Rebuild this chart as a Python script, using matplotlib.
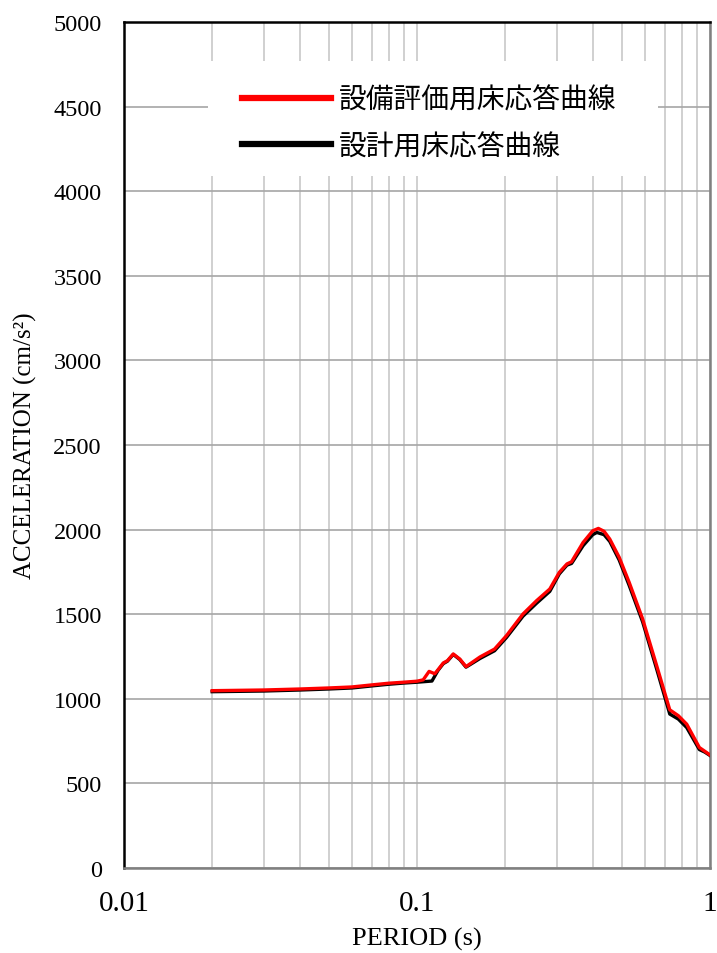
import numpy as np
import matplotlib.pyplot as plt
from matplotlib.patches import Rectangle

# 周期 (s) と加速度 (cm/s2) - 図から読み取り
periodo_rojo = [0.02, 0.03, 0.04, 0.05, 0.06, 0.07, 0.08, 0.09, 0.10, 0.105,
                0.110, 0.115, 0.118, 0.123, 0.127, 0.133, 0.140, 0.147, 0.164,
                0.184, 0.202, 0.230, 0.256, 0.284, 0.306, 0.325, 0.337, 0.369,
                0.398, 0.416, 0.435, 0.455, 0.490, 0.530, 0.589, 0.658, 0.729,
                0.78, 0.833, 0.92, 0.96, 1.0]
acel_rojo = [1048, 1052, 1058, 1064, 1070, 1082, 1092, 1098, 1104, 1112,
             1162, 1148, 1172, 1212, 1225, 1265, 1235, 1190, 1247,
             1294, 1373, 1501, 1580, 1649, 1747, 1797, 1810, 1924,
             1993, 2007, 1990, 1944, 1836, 1688, 1472, 1195, 935,
             900, 850, 712, 690, 668]

periodo_negro = [0.02, 0.03, 0.04, 0.05, 0.06, 0.07, 0.08, 0.09, 0.10, 0.1125,
                 0.118, 0.123, 0.127, 0.133, 0.140, 0.147, 0.164, 0.184, 0.202,
                 0.230, 0.256, 0.284, 0.306, 0.325, 0.337, 0.369, 0.398, 0.411,
                 0.435, 0.455, 0.490, 0.530, 0.589, 0.658, 0.729, 0.78, 0.833,
                 0.92, 0.96, 1.0]
acel_negro = [1042, 1046, 1052, 1058, 1064, 1076, 1086, 1093, 1098, 1105,
              1168, 1208, 1222, 1262, 1232, 1187, 1238, 1284, 1362,
              1488, 1565, 1635, 1738, 1790, 1800, 1905, 1970, 1983,
              1970, 1930, 1820, 1670, 1455, 1175, 910, 880, 830,
              700, 685, 665]

etiquetas = ["設備評価用床応答曲線", "設計用床応答曲線"]

serif = ["Liberation Serif", "DejaVu Serif"]

fig = plt.figure(figsize=(7.17, 9.54), dpi=100)
ax = fig.add_axes([0.1729, 0.0891, 0.8173, 0.8868])

ax.set_xscale("log")
ax.set_xlim(0.01, 1)
ax.set_ylim(0, 5000)
ax.set_yticks(np.arange(0, 5001, 500))
ax.set_xticks([0.01, 0.1, 1])
ax.set_xticklabels(["0.01", "0.1", "1"])

ax.grid(axis="x", which="both", color="#c8c8c8", linewidth=1.2)
ax.grid(axis="y", which="major", color="#a6a6a6", linewidth=1.2)
ax.tick_params(which="both", length=0)
ax.tick_params(axis="y", pad=16, labelsize=17.5)
ax.tick_params(axis="x", pad=16, labelsize=21)
for lab in ax.get_xticklabels() + ax.get_yticklabels():
    lab.set_family(serif)

for lado, color in [("left", "black"), ("top", "black"), ("right", "#808080"), ("bottom", "#808080")]:
    ax.spines[lado].set_color(color)
    ax.spines[lado].set_linewidth(1.8)

l_neg, = ax.plot(periodo_negro, acel_negro, color="black", linewidth=2.4, zorder=3)
l_roj, = ax.plot(periodo_rojo, acel_rojo, color="#ff0000", linewidth=2.4, zorder=4)

ax.set_xlabel("PERIOD (s)", family=serif, fontsize=19, labelpad=8)
ax.set_ylabel("ACCELERATION (cm/s²)", family=serif, fontsize=18, labelpad=12)

# caja blanca de la leyenda
ax.add_patch(Rectangle((0.143, 0.818), 0.768, 0.136, transform=ax.transAxes,
                       facecolor="white", edgecolor="none", zorder=2.5))
leg = ax.legend([l_roj, l_neg], etiquetas, loc="upper left",
                bbox_to_anchor=(0.178, 0.9425), frameon=False, borderpad=0,
                handlelength=3.2, handletextpad=0.3, labelspacing=0.6,
                prop={"family": ["Noto Sans CJK JP", "DejaVu Sans"], "size": 20})
for linea in leg.get_lines():
    linea.set_linewidth(4.5)
leg.set_zorder(5)

fig.savefig("out.png", dpi=100)
